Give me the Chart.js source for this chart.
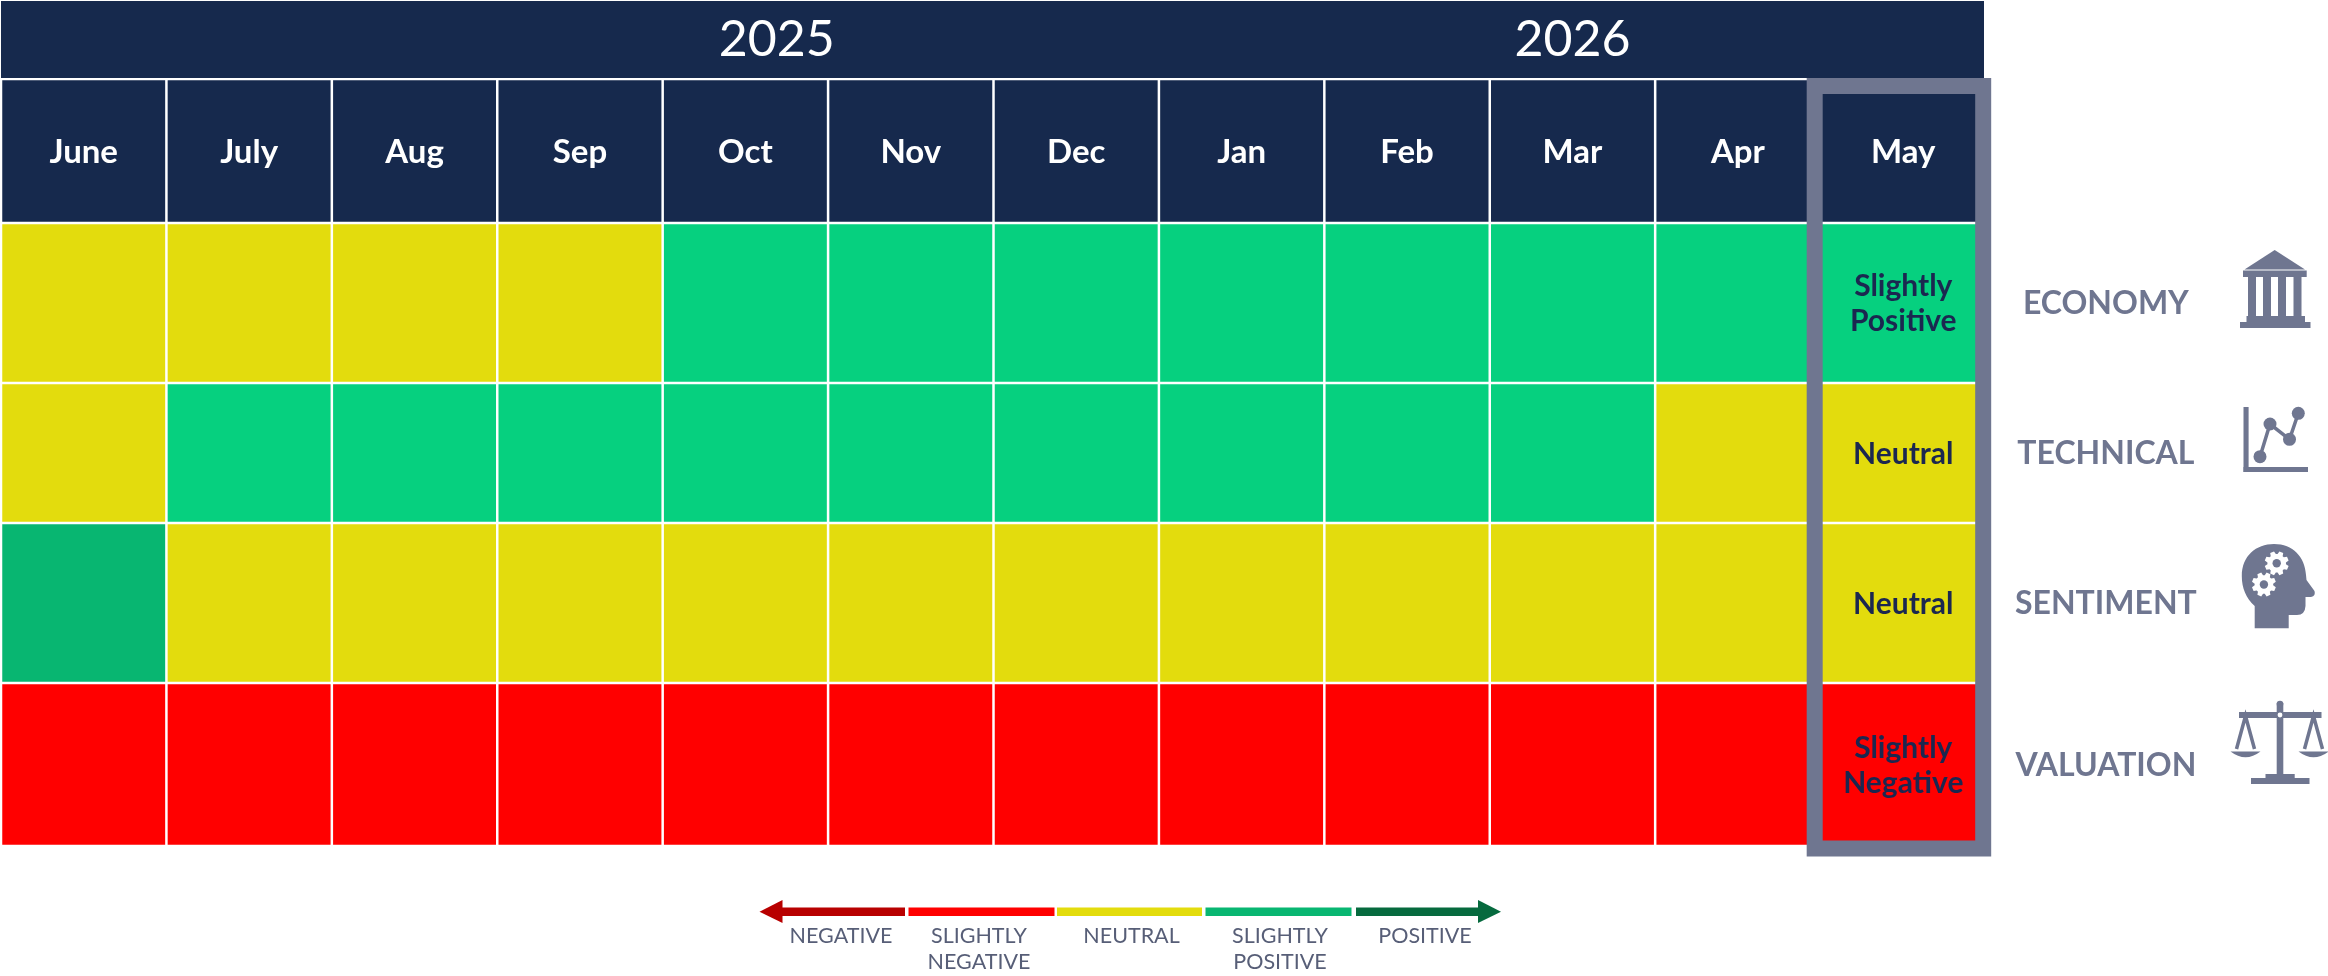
<!DOCTYPE html>
<html>
<head>
<meta charset="utf-8">
<title>Market outlook heatmap</title>
<script src="https://cdn.jsdelivr.net/npm/chart.js@4"></script>
<style>
  html, body { margin: 0; padding: 0; background: #fff; }
  canvas { display: block; }
</style>
</head>
<body>
<canvas id="heatmap" width="2328" height="976"></canvas>
<script>
// Data
const months = ['June', 'July', 'Aug', 'Sep', 'Oct', 'Nov', 'Dec', 'Jan', 'Feb', 'Mar', 'Apr', 'May'];
const rows = ['ECONOMY', 'TECHNICAL', 'SENTIMENT', 'VALUATION'];
const years = ['2025', '2026'];

const N = 'Neutral', SP = 'Slightly Positive', SN = 'Slightly Negative', SPD = 'Slightly Positive (dark)';
const economy   = [N, N, N, N, SP, SP, SP, SP, SP, SP, SP, SP];
const technical = [N, SP, SP, SP, SP, SP, SP, SP, SP, SP, N, N];
const sentiment = [SPD, N, N, N, N, N, N, N, N, N, N, N];
const valuation = [SN, SN, SN, SN, SN, SN, SN, SN, SN, SN, SN, SN];

const legendLabels = [['NEGATIVE'], ['SLIGHTLY', 'NEGATIVE'], ['NEUTRAL'], ['SLIGHTLY', 'POSITIVE'], ['POSITIVE']];

// Colours
const navy = '#16294D';
const slate = '#6F7690';
const levelColours = {
  [N]: '#E3DC0D',
  [SP]: '#06D07F',
  [SPD]: '#08B671',
  [SN]: '#FF0000'
};
const legendColours = ['#B80000', '#FF0000', '#E3DC0D', '#08B671', '#066A3E'];

// Layout: row heights in y-axis units (the axis runs in pixels)
const headerHeight = 144;
const rowHeights = [160, 140, 160, 163];
const yearCentres = [4.19, 9];
const fontName = 'Lato, "Open Sans", sans-serif';

const rowValues = [economy, technical, sentiment, valuation];

// One stacked dataset per row, plus the month header row
const datasets = [{
  label: 'Header',
  data: months.map(() => headerHeight),
  backgroundColor: months.map(() => navy)
}];
rows.forEach((name, i) => {
  datasets.push({
    label: name,
    data: months.map(() => rowHeights[i]),
    backgroundColor: rowValues[i].map(level => levelColours[level])
  });
});

// Tick positions for the row labels on the right
const rowCentres = [];
let rowTop = headerHeight;
rowHeights.forEach(h => {
  rowCentres.push(rowTop + h / 2 + 1);
  rowTop += h;
});

function box(ctx, x0, y0, x1, y1) {
  ctx.fillRect(x0, y0, x1 - x0, y1 - y0);
}

function poly(ctx, pts) {
  ctx.beginPath();
  pts.forEach((p, i) => i ? ctx.lineTo(p[0], p[1]) : ctx.moveTo(p[0], p[1]));
  ctx.closePath();
  ctx.fill();
}

function drawBank(ctx) {
  poly(ctx, [[2274.7, 250], [2305, 269.5], [2244.5, 269.5]]);
  box(ctx, 2243, 270.5, 2306.7, 277);
  [2248, 2263, 2278, 2293.5].forEach(x => box(ctx, x, 277, x + 8, 316));
  box(ctx, 2246.5, 316, 2305, 322);
  box(ctx, 2240, 322, 2310.5, 328);
}

function drawLineIcon(ctx) {
  box(ctx, 2243.5, 407, 2248.6, 472);
  box(ctx, 2243.5, 467, 2308, 472);
  const pts = [[2260, 456.7], [2270, 424], [2289.5, 439.3], [2298.3, 413.3]];
  ctx.strokeStyle = slate;
  ctx.lineWidth = 3.5;
  ctx.beginPath();
  pts.forEach((p, i) => i ? ctx.lineTo(p[0], p[1]) : ctx.moveTo(p[0], p[1]));
  ctx.stroke();
  pts.forEach(p => {
    ctx.beginPath();
    ctx.arc(p[0], p[1], 6.5, 0, Math.PI * 2);
    ctx.fill();
  });
}

function drawGear(ctx, cx, cy) {
  ctx.fillStyle = '#fff';
  ctx.beginPath();
  for (let i = 0; i < 8; i++) {
    const a = i * Math.PI / 4 + Math.PI / 8;
    for (const [d, r] of [[-0.3, 9.3], [-0.17, 12.2], [0.17, 12.2], [0.3, 9.3]]) {
      ctx.lineTo(cx + Math.cos(a + d) * r, cy + Math.sin(a + d) * r);
    }
  }
  ctx.closePath();
  ctx.fill();
  ctx.fillStyle = slate;
  ctx.beginPath();
  ctx.arc(cx, cy, 4.2, 0, Math.PI * 2);
  ctx.fill();
}

function drawHead(ctx) {
  ctx.beginPath();
  ctx.moveTo(2254.7, 628.3);
  ctx.lineTo(2254.7, 606);
  ctx.bezierCurveTo(2246, 598, 2241.8, 588, 2241.8, 576);
  ctx.bezierCurveTo(2241.8, 556, 2256, 544, 2274, 544);
  ctx.bezierCurveTo(2293, 544, 2305, 557, 2306, 575);
  ctx.lineTo(2306.5, 580);
  ctx.lineTo(2314.5, 591);
  ctx.quadraticCurveTo(2316, 596, 2311, 597);
  ctx.lineTo(2305.5, 597);
  ctx.lineTo(2305.5, 606);
  ctx.quadraticCurveTo(2305, 615, 2297, 615);
  ctx.lineTo(2288.7, 615);
  ctx.lineTo(2288.7, 628.3);
  ctx.closePath();
  ctx.fill();
  drawGear(ctx, 2276.7, 563.3);
  drawGear(ctx, 2263.9, 584.5);
  ctx.fillStyle = slate;
}

function drawPan(ctx, apexX) {
  ctx.lineWidth = 3.5;
  ctx.strokeStyle = slate;
  ctx.beginPath();
  ctx.moveTo(apexX - 9, 749);
  ctx.lineTo(apexX, 716);
  ctx.lineTo(apexX + 9, 749);
  ctx.stroke();
  ctx.beginPath();
  ctx.moveTo(apexX - 15, 751.5);
  ctx.lineTo(apexX + 15, 751.5);
  ctx.quadraticCurveTo(apexX, 763, apexX - 15, 751.5);
  ctx.closePath();
  ctx.fill();
}

function drawScales(ctx) {
  box(ctx, 2276.7, 703, 2283.3, 778);
  ctx.beginPath();
  ctx.arc(2280, 704, 3.3, 0, Math.PI * 2);
  ctx.fill();
  box(ctx, 2239, 712, 2321.5, 718);
  box(ctx, 2251, 778, 2309.5, 784);
  box(ctx, 2265.5, 774, 2294.7, 778);
  drawPan(ctx, 2245.5);
  drawPan(ctx, 2313.5);
  ctx.fillStyle = '#fff';
  ctx.beginPath();
  ctx.arc(2280, 715, 2.4, 0, Math.PI * 2);
  ctx.fill();
  ctx.fillStyle = slate;
}

// Scale running from negative to positive below the grid
function drawLegend(ctx) {
  const segments = [[782, 905], [908.5, 1054.5], [1057, 1202], [1205.5, 1351.5], [1356, 1478]];
  const centres = [841, 979, 1131.5, 1280, 1425];
  segments.forEach((s, i) => {
    ctx.fillStyle = legendColours[i];
    box(ctx, s[0], 907.5, s[1], 916);
  });
  ctx.fillStyle = legendColours[0];
  poly(ctx, [[759.5, 911.7], [782.5, 900], [782.5, 923]]);
  ctx.fillStyle = legendColours[4];
  poly(ctx, [[1501, 911.7], [1478, 900], [1478, 923]]);

  ctx.fillStyle = '#575E77';
  ctx.font = '400 21.5px ' + fontName;
  ctx.textAlign = 'center';
  ctx.textBaseline = 'middle';
  legendLabels.forEach((lines, i) => {
    lines.forEach((line, j) => ctx.fillText(line, centres[i], 936.5 + j * 26));
  });
}

const decorPlugin = {
  id: 'decor',
  beforeDatasetsDraw(chart) {
    // Year banner above the month row
    const ctx = chart.ctx;
    const x = chart.scales.x;
    ctx.save();
    ctx.fillStyle = navy;
    box(ctx, x.left, 1, x.left + 1983, 78);
    ctx.fillStyle = '#fff';
    ctx.font = '400 50px ' + fontName;
    ctx.textAlign = 'center';
    ctx.textBaseline = 'middle';
    years.forEach((year, i) => ctx.fillText(year, x.getPixelForValue(yearCentres[i]), 40));
    ctx.restore();
  },
  afterDatasetsDraw(chart) {
    const ctx = chart.ctx;
    const x = chart.scales.x;
    const last = months.length - 1;
    ctx.save();

    // Frame around the latest month
    const cx = x.getPixelForValue(last);
    ctx.strokeStyle = slate;
    ctx.lineWidth = 16;
    ctx.strokeRect(cx - 88.6, 86, 168.5, 762.5);

    // Reading of the latest month in its cell
    ctx.fillStyle = '#1B2750';
    ctx.font = '700 30px ' + fontName;
    ctx.textAlign = 'center';
    ctx.textBaseline = 'middle';
    rows.forEach((name, i) => {
      const bar = chart.getDatasetMeta(i + 1).data[last].getProps(['x', 'y', 'base']);
      const midY = (bar.y + bar.base) / 2 + 1;
      const words = rowValues[i][last].split(' ');
      words.forEach((word, j) => {
        ctx.fillText(word, bar.x, midY + (j - (words.length - 1) / 2) * 35);
      });
    });

    // Row icons
    ctx.fillStyle = slate;
    drawBank(ctx);
    drawLineIcon(ctx);
    drawHead(ctx);
    drawScales(ctx);

    drawLegend(ctx);
    ctx.restore();
  }
};

new Chart(document.getElementById('heatmap'), {
  type: 'bar',
  data: { labels: months, datasets: datasets },
  plugins: [decorPlugin],
  options: {
    responsive: false,
    animation: false,
    layout: { padding: { left: 1, right: 0, top: 79, bottom: 130 } },
    datasets: {
      bar: {
        stack: 'grid',
        barPercentage: 1,
        categoryPercentage: 1,
        borderColor: '#fff',
        borderWidth: 1.25,
        borderSkipped: false,
        inflateAmount: 0
      }
    },
    plugins: {
      legend: { display: false },
      tooltip: { enabled: false },
      title: { display: false }
    },
    scales: {
      x: {
        position: 'top',
        stacked: true,
        grid: { display: false, drawTicks: false },
        border: { display: false },
        ticks: {
          z: 1,
          color: '#fff',
          mirror: true,
          padding: 53.5,
          autoSkip: false,
          maxRotation: 0,
          font: { family: fontName, size: 33, weight: '700' }
        },
        // Month labels sit inside the header row, so the axis takes no room
        afterFit(scale) {
          scale.height = 0;
          scale.paddingLeft = 0;
          scale.paddingRight = 0;
        }
      },
      y: {
        position: 'right',
        stacked: true,
        reverse: true,
        min: 0,
        max: headerHeight + rowHeights.reduce((a, b) => a + b, 0),
        grid: { display: false, drawTicks: false },
        border: { display: false },
        afterBuildTicks(scale) {
          scale.ticks = rowCentres.map(v => ({ value: v }));
        },
        ticks: {
          autoSkip: false,
          crossAlign: 'center',
          padding: 29,
          color: slate,
          font: { family: fontName, size: 32, weight: '700' },
          callback: (value, index) => rows[index]
        },
        afterFit(scale) { scale.width = 342; }
      }
    }
  }
});
</script>
</body>
</html>
